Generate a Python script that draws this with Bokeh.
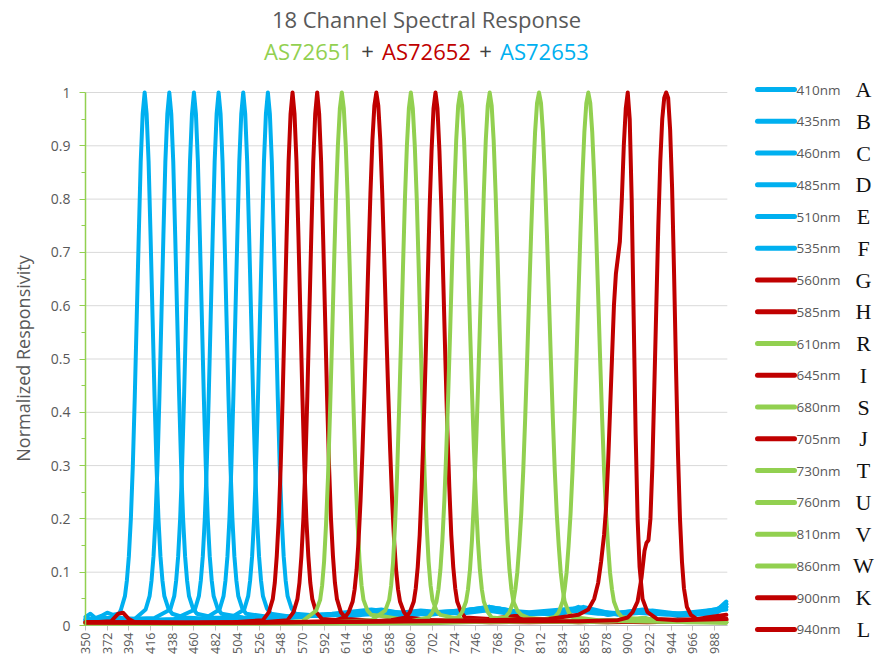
import math
from bokeh.plotting import figure
from bokeh.models import Range1d, FixedTicker, NumeralTickFormatter
from bokeh.embed import file_html
from bokeh.resources import INLINE
from bokeh.core.properties import value

BLUE = "#00B0F0"
RED = "#C00000"
GREEN = "#92D050"
GRAY = "#595959"
FONT = "Open Sans"

TITLE = "18 Channel Spectral Response"
SUBTITLE_PARTS = ["AS72651", "+", "AS72652", "+", "AS72653"]
SUBTITLE_COLORS = [GREEN, "#404040", RED, "#404040", BLUE]
Y_LABEL = "Normalized Responsivity"

X_TICKS = [350, 372, 394, 416, 438, 460, 482, 504, 526, 548, 570, 592, 614, 636, 658,
           680, 702, 724, 746, 768, 790, 812, 834, 856, 878, 900, 922, 944, 966, 988]
Y_TICKS = [0, 0.1, 0.2, 0.3, 0.4, 0.5, 0.6, 0.7, 0.8, 0.9, 1.0]
Y_MINOR = [0.05, 0.15, 0.25, 0.35, 0.45, 0.55, 0.65, 0.75, 0.85, 0.95]
X_MIN, X_MAX = 350, 1001

# ---- channel A 410nm (blue)
WL_A = [350, 355, 360, 366, 372, 378, 384, 386, 390, 392, 394, 396, 398, 400, 402, 404, 406, 408, 410,
        412, 414, 416, 418, 420, 422, 424, 426, 428, 430, 434, 438, 450, 480, 520, 560, 600, 630, 650,
        690, 730, 770, 800, 840, 880, 910, 950, 990, 1000]
R_A = [0.016, 0.022, 0.014, 0.018, 0.024, 0.02, 0.022, 0.03, 0.055, 0.085, 0.13, 0.2, 0.3, 0.43, 0.58, 0.73, 0.87, 0.96, 1.0,
       0.96, 0.87, 0.73, 0.58, 0.43, 0.3, 0.2, 0.13, 0.085, 0.055, 0.032, 0.022, 0.015, 0.012, 0.014, 0.016, 0.02, 0.025, 0.02,
       0.022, 0.028, 0.032, 0.022, 0.03, 0.022, 0.028, 0.02, 0.024, 0.035]
# ---- channel B 435nm (blue)
WL_B = [350, 380, 400, 411, 415, 417, 419, 421, 423, 425, 427, 429, 431, 433, 435, 437, 439, 441, 443, 445,
        447, 449, 451, 453, 455, 459, 463, 480, 520, 560, 600, 640, 680, 720, 760, 790, 830, 850, 880, 915,
        950, 985, 1000]
R_B = [0.012, 0.015, 0.012, 0.03, 0.055, 0.085, 0.13, 0.2, 0.3, 0.43, 0.58, 0.73, 0.87, 0.96, 1.0, 0.96, 0.87, 0.73, 0.58, 0.43,
       0.3, 0.2, 0.13, 0.085, 0.055, 0.032, 0.022, 0.015, 0.012, 0.018, 0.022, 0.03, 0.02, 0.025, 0.035, 0.025, 0.02, 0.035, 0.02, 0.03,
       0.018, 0.022, 0.04]
# ---- channel C 460nm (blue)
WL_C = [350, 390, 420, 436, 440, 442, 444, 446, 448, 450, 452, 454, 456, 458, 460, 462, 464, 466, 468, 470,
        472, 474, 476, 478, 480, 484, 488, 510, 550, 590, 620, 660, 700, 740, 770, 800, 840, 870, 900, 940,
        980, 1000]
R_C = [0.01, 0.012, 0.014, 0.03, 0.055, 0.085, 0.13, 0.2, 0.3, 0.43, 0.58, 0.73, 0.87, 0.96, 1.0, 0.96, 0.87, 0.73, 0.58, 0.43,
       0.3, 0.2, 0.13, 0.085, 0.055, 0.032, 0.022, 0.015, 0.012, 0.02, 0.018, 0.026, 0.02, 0.03, 0.028, 0.02, 0.028, 0.022, 0.025, 0.02,
       0.025, 0.03]
# ---- channel D 485nm (blue)
WL_D = [350, 400, 440, 461, 465, 467, 469, 471, 473, 475, 477, 479, 481, 483, 485, 487, 489, 491, 493, 495,
        497, 499, 501, 503, 505, 509, 513, 540, 580, 620, 650, 690, 730, 765, 800, 845, 880, 910, 950, 990,
        1000]
R_D = [0.012, 0.01, 0.012, 0.03, 0.055, 0.085, 0.13, 0.2, 0.3, 0.43, 0.58, 0.73, 0.87, 0.96, 1.0, 0.96, 0.87, 0.73, 0.58, 0.43,
       0.3, 0.2, 0.13, 0.085, 0.055, 0.032, 0.022, 0.015, 0.018, 0.022, 0.02, 0.028, 0.022, 0.03, 0.025, 0.032, 0.02, 0.026, 0.022, 0.03,
       0.04]
# ---- channel E 510nm (blue)
WL_E = [350, 420, 470, 486, 490, 492, 494, 496, 498, 500, 502, 504, 506, 508, 510, 512, 514, 516, 518, 520,
        522, 524, 526, 528, 530, 534, 538, 560, 600, 640, 670, 710, 750, 780, 820, 860, 895, 925, 960, 1000]
R_E = [0.01, 0.01, 0.012, 0.03, 0.055, 0.085, 0.13, 0.2, 0.3, 0.43, 0.58, 0.73, 0.87, 0.96, 1.0, 0.96, 0.87, 0.73, 0.58, 0.43,
       0.3, 0.2, 0.13, 0.085, 0.055, 0.032, 0.022, 0.016, 0.02, 0.024, 0.018, 0.026, 0.03, 0.022, 0.025, 0.028, 0.022, 0.028, 0.02, 0.035]
# ---- channel F 535nm (blue)
WL_F = [350, 450, 495, 511, 515, 517, 519, 521, 523, 525, 527, 529, 531, 533, 535, 537, 539, 541, 543, 545,
        547, 549, 551, 553, 555, 559, 563, 590, 620, 650, 680, 720, 760, 790, 830, 855, 890, 920, 960, 990,
        1000]
R_F = [0.01, 0.01, 0.012, 0.03, 0.055, 0.085, 0.13, 0.2, 0.3, 0.43, 0.58, 0.73, 0.87, 0.96, 1.0, 0.96, 0.87, 0.73, 0.58, 0.43,
       0.3, 0.2, 0.13, 0.085, 0.055, 0.032, 0.022, 0.018, 0.024, 0.03, 0.02, 0.024, 0.035, 0.025, 0.02, 0.035, 0.02, 0.025, 0.022, 0.028,
       0.045]
# ---- channel G 560nm (red)
WL_G = [350, 376, 383, 388, 394, 400, 450, 500, 530, 536, 540, 542, 544, 546, 548, 550, 552, 554, 556, 558,
        560, 562, 564, 566, 568, 570, 572, 574, 576, 578, 580, 584, 590, 620, 680, 740, 800, 860, 920, 960,
        1000]
R_G = [0.005, 0.008, 0.022, 0.024, 0.012, 0.006, 0.004, 0.006, 0.01, 0.025, 0.05, 0.08, 0.13, 0.2, 0.3, 0.43, 0.58, 0.73, 0.87, 0.96,
       1.0, 0.96, 0.87, 0.73, 0.58, 0.43, 0.3, 0.2, 0.13, 0.08, 0.05, 0.025, 0.012, 0.008, 0.006, 0.008, 0.006, 0.008, 0.006, 0.008,
       0.012]
# ---- channel H 585nm (red)
WL_H = [350, 450, 530, 555, 561, 565, 567, 569, 571, 573, 575, 577, 579, 581, 583, 585, 587, 589, 591, 593,
        595, 597, 599, 601, 603, 605, 609, 615, 650, 700, 760, 820, 880, 940, 1000]
R_H = [0.006, 0.005, 0.006, 0.01, 0.025, 0.05, 0.08, 0.13, 0.2, 0.3, 0.43, 0.58, 0.73, 0.87, 0.96, 1.0, 0.96, 0.87, 0.73, 0.58,
       0.43, 0.3, 0.2, 0.13, 0.08, 0.05, 0.025, 0.012, 0.008, 0.01, 0.006, 0.008, 0.006, 0.008, 0.01]
# ---- channel R 610nm (green)
WL_R = [350, 450, 540, 570, 584, 588, 590, 592, 594, 596, 598, 600, 602, 604, 606, 608, 610, 612, 614, 616,
        618, 620, 622, 624, 626, 628, 630, 632, 636, 640, 650, 670, 700, 760, 820, 880, 905, 915, 930, 1000]
R_R = [0.004, 0.004, 0.005, 0.008, 0.028, 0.048, 0.075, 0.12, 0.19, 0.28, 0.4, 0.53, 0.67, 0.8, 0.9, 0.97, 1.0, 0.97, 0.9, 0.8,
       0.67, 0.53, 0.4, 0.28, 0.19, 0.12, 0.075, 0.048, 0.028, 0.02, 0.018, 0.012, 0.008, 0.006, 0.008, 0.006, 0.012, 0.014, 0.008, 0.006]
# ---- channel I 645nm (red)
WL_I = [350, 450, 550, 600, 613, 617, 621, 623, 625, 627, 629, 631, 633, 635, 637, 639, 641, 643, 645, 647,
        649, 651, 653, 655, 657, 659, 661, 663, 665, 667, 669, 673, 677, 700, 750, 800, 850, 900, 1000]
R_I = [0.005, 0.004, 0.006, 0.008, 0.015, 0.025, 0.045, 0.068, 0.105, 0.16, 0.235, 0.33, 0.44, 0.56, 0.69, 0.81, 0.91, 0.975, 1.0, 0.975,
       0.91, 0.81, 0.69, 0.56, 0.44, 0.33, 0.235, 0.16, 0.105, 0.068, 0.045, 0.025, 0.015, 0.01, 0.008, 0.01, 0.006, 0.008, 0.01]
# ---- channel S 680nm (green)
WL_S = [350, 500, 600, 640, 654, 658, 660, 662, 664, 666, 668, 670, 672, 674, 676, 678, 680, 682, 684, 686,
        688, 690, 692, 694, 696, 698, 700, 702, 706, 710, 730, 780, 850, 920, 1000]
R_S = [0.004, 0.004, 0.006, 0.01, 0.028, 0.048, 0.075, 0.12, 0.19, 0.28, 0.4, 0.53, 0.67, 0.8, 0.9, 0.97, 1.0, 0.97, 0.9, 0.8,
       0.67, 0.53, 0.4, 0.28, 0.19, 0.12, 0.075, 0.048, 0.028, 0.02, 0.012, 0.008, 0.006, 0.01, 0.006]
# ---- channel J 705nm (red)
WL_J = [350, 500, 620, 660, 675, 679, 683, 685, 687, 689, 691, 693, 695, 697, 699, 701, 703, 705, 707, 709,
        711, 713, 715, 717, 719, 721, 723, 725, 727, 731, 735, 760, 785, 790, 800, 850, 900, 1000]
R_J = [0.006, 0.005, 0.006, 0.01, 0.015, 0.025, 0.045, 0.07, 0.11, 0.17, 0.26, 0.37, 0.5, 0.64, 0.78, 0.89, 0.97, 1.0, 0.97, 0.89,
       0.78, 0.64, 0.5, 0.37, 0.26, 0.17, 0.11, 0.07, 0.045, 0.025, 0.015, 0.012, 0.018, 0.018, 0.01, 0.008, 0.01, 0.012]
# ---- channel T 730nm (green)
WL_T = [350, 550, 680, 698, 702, 706, 708, 710, 712, 714, 716, 718, 720, 722, 724, 726, 728, 730, 732, 734,
        736, 738, 740, 742, 744, 746, 748, 750, 752, 754, 758, 762, 790, 850, 920, 1000]
R_T = [0.004, 0.004, 0.008, 0.015, 0.025, 0.045, 0.068, 0.105, 0.16, 0.235, 0.33, 0.44, 0.56, 0.69, 0.81, 0.91, 0.975, 1.0, 0.975, 0.91,
       0.81, 0.69, 0.56, 0.44, 0.33, 0.235, 0.16, 0.105, 0.068, 0.045, 0.025, 0.015, 0.01, 0.008, 0.012, 0.006]
# ---- channel U 760nm (green)
WL_U = [350, 600, 710, 728, 732, 736, 738, 740, 742, 744, 746, 748, 750, 752, 754, 756, 758, 760, 762, 764,
        766, 768, 770, 772, 774, 776, 778, 780, 782, 784, 788, 792, 800, 830, 900, 1000]
R_U = [0.004, 0.004, 0.008, 0.015, 0.025, 0.045, 0.068, 0.105, 0.16, 0.235, 0.33, 0.44, 0.56, 0.69, 0.81, 0.91, 0.975, 1.0, 0.975, 0.91,
       0.81, 0.69, 0.56, 0.44, 0.33, 0.235, 0.16, 0.105, 0.068, 0.045, 0.028, 0.02, 0.014, 0.01, 0.008, 0.006]
# ---- channel V 810nm (green)
WL_V = [350, 650, 760, 776, 780, 784, 786, 788, 790, 792, 794, 796, 798, 800, 802, 804, 806, 808, 810, 812,
        814, 816, 818, 820, 822, 824, 826, 828, 830, 832, 834, 836, 840, 844, 870, 920, 1000]
R_V = [0.004, 0.004, 0.01, 0.016, 0.025, 0.045, 0.068, 0.1, 0.15, 0.21, 0.29, 0.39, 0.5, 0.62, 0.735, 0.84, 0.925, 0.98, 1.0, 0.98,
       0.925, 0.84, 0.735, 0.62, 0.5, 0.39, 0.29, 0.21, 0.15, 0.1, 0.068, 0.045, 0.025, 0.016, 0.01, 0.008, 0.006]
# ---- channel W 860nm (green)
WL_W = [350, 700, 810, 826, 830, 834, 836, 838, 840, 842, 844, 846, 848, 850, 852, 854, 856, 858, 860, 862,
        864, 866, 868, 870, 872, 874, 876, 878, 880, 882, 884, 886, 890, 894, 910, 918, 926, 960, 1000]
R_W = [0.004, 0.004, 0.01, 0.016, 0.025, 0.045, 0.068, 0.1, 0.15, 0.21, 0.29, 0.39, 0.5, 0.62, 0.735, 0.84, 0.925, 0.98, 1.0, 0.98,
       0.925, 0.84, 0.735, 0.62, 0.5, 0.39, 0.29, 0.21, 0.15, 0.1, 0.068, 0.045, 0.025, 0.016, 0.012, 0.014, 0.01, 0.006, 0.005]
# ---- channel K 900nm (red)
WL_K = [350, 450, 550, 650, 750, 820, 850, 860, 866, 870, 873, 876, 878, 880, 882, 884, 886, 888, 890, 892,
        894, 896, 898, 900, 902, 904, 906, 908, 910, 912, 915, 920, 930, 950, 1000]
R_K = [0.006, 0.005, 0.006, 0.008, 0.01, 0.012, 0.02, 0.03, 0.05, 0.08, 0.12, 0.17, 0.22, 0.3, 0.4, 0.5, 0.6, 0.66, 0.69, 0.72,
       0.8, 0.9, 0.97, 1.0, 0.95, 0.8, 0.58, 0.36, 0.2, 0.11, 0.05, 0.025, 0.012, 0.01, 0.012]
# ---- channel L 940nm (red)
WL_L = [350, 500, 700, 850, 890, 900, 905, 910, 914, 917, 919, 921, 923, 925, 927, 929, 931, 933, 935, 937,
        939, 941, 943, 945, 947, 949, 951, 953, 955, 957, 960, 964, 970, 980, 1000]
R_L = [0.005, 0.005, 0.008, 0.008, 0.01, 0.015, 0.025, 0.045, 0.09, 0.14, 0.155, 0.16, 0.2, 0.3, 0.45, 0.6, 0.75, 0.87, 0.95, 0.99,
       1.0, 0.99, 0.93, 0.82, 0.66, 0.48, 0.32, 0.2, 0.12, 0.07, 0.035, 0.02, 0.012, 0.015, 0.02]

LETTERS = ["A", "B", "C", "D", "E", "F", "G", "H", "R", "I", "S", "J", "T", "U", "V", "W", "K", "L"]
NM_LABELS = ["410nm", "435nm", "460nm", "485nm", "510nm", "535nm", "560nm", "585nm", "610nm",
             "645nm", "680nm", "705nm", "730nm", "760nm", "810nm", "860nm", "900nm", "940nm"]
COLORS = [BLUE, BLUE, BLUE, BLUE, BLUE, BLUE, RED, RED, GREEN, RED, GREEN, RED,
          GREEN, GREEN, GREEN, GREEN, RED, RED]
WLS = [WL_A, WL_B, WL_C, WL_D, WL_E, WL_F, WL_G, WL_H, WL_R, WL_I, WL_S, WL_J,
       WL_T, WL_U, WL_V, WL_W, WL_K, WL_L]
RESP = [R_A, R_B, R_C, R_D, R_E, R_F, R_G, R_H, R_R, R_I, R_S, R_J,
        R_T, R_U, R_V, R_W, R_K, R_L]

# ---------------- canvas geometry (pixels inside the canvas)
W, H = 884, 658
PX_X350, PX_X988 = 85, 714      # canvas x of the first / last tick label
PX_Y1, PX_Y0 = 92, 625          # canvas y of 1.0 / 0.0
SX = (PX_X988 - PX_X350) / (X_TICKS[-1] - X_TICKS[0])
SY = (PX_Y0 - PX_Y1) / 1.0
X_START = X_TICKS[0] - PX_X350 / SX
X_END = X_START + W / SX
Y_END = 1.0 + PX_Y1 / SY
Y_START = Y_END - H / SY


def px_x(px):
    return X_START + px / SX


def px_y(py):
    return Y_END - py / SY


p = figure(width=W, height=H, x_range=Range1d(X_START, X_END), y_range=Range1d(Y_START, Y_END),
           output_backend="svg", toolbar_location=None, title=None, min_border=0)
p.outline_line_color = None
p.grid.visible = False
p.background_fill_color = "white"
p.border_fill_color = "white"

# horizontal gridlines, only across the plot area
p.segment(x0=[X_MIN] * len(Y_TICKS), x1=[X_MAX] * len(Y_TICKS), y0=Y_TICKS, y1=Y_TICKS,
          line_color="#D9D9D9", line_width=1, level="underlay")

for wl, r, c in zip(WLS, RESP, COLORS):
    p.line(wl, r, line_color=c, line_width=4, line_join="round", line_cap="round")

ya = p.yaxis[0]
ya.fixed_location = X_MIN
ya.bounds = (0, 1)
ya.ticker = FixedTicker(ticks=Y_TICKS, minor_ticks=Y_MINOR)
ya.formatter = NumeralTickFormatter(format="0.[0]")
ya.axis_line_color = GREEN
ya.axis_line_width = 1.5
ya.major_tick_line_color = GREEN
ya.minor_tick_line_color = GREEN
ya.major_tick_out = 6
ya.major_tick_in = 0
ya.minor_tick_out = 4
ya.minor_tick_in = 0
ya.major_label_text_font = FONT
ya.major_label_text_font_size = "14px"
ya.major_label_text_color = GRAY
ya.major_label_standoff = 9

xa = p.xaxis[0]
xa.fixed_location = 0
xa.bounds = (X_MIN, X_MAX)
xa.level = "underlay"
xa.ticker = FixedTicker(ticks=X_TICKS)
xa.axis_line_color = "#BFBFBF"
xa.major_tick_line_color = "#BFBFBF"
xa.minor_tick_line_color = None
xa.major_tick_out = 5
xa.major_tick_in = 0
xa.major_label_orientation = math.pi / 2
xa.major_label_standoff = 2
xa.major_label_text_font = FONT
xa.major_label_text_font_size = "12.5px"
xa.major_label_text_color = GRAY

# y-axis title
p.text(x=[px_x(22)], y=[px_y(358)], text=[Y_LABEL], angle=math.pi / 2, text_font=value(FONT),
       text_font_size="18px", text_color=GRAY, text_align="center", text_baseline="middle")

# chart titles
p.text(x=[px_x(426)], y=[px_y(18)], text=[TITLE], text_font=value(FONT), text_font_size="22px",
       text_color=GRAY, text_align="center", text_baseline="middle")
sub_px = [308, 367, 426, 485, 544]
p.text(x=[px_x(v) for v in sub_px], y=[px_y(50)] * len(sub_px), text=SUBTITLE_PARTS,
       text_color=SUBTITLE_COLORS, text_font=value(FONT), text_font_size="22px",
       text_align="center", text_baseline="middle")

# legend (right side)
rows_py = [89 + 31.76 * i for i in range(len(LETTERS))]
rows_y = [px_y(v) for v in rows_py]
n = len(rows_y)
p.segment(x0=[px_x(757)] * n, x1=[px_x(794)] * n, y0=rows_y, y1=rows_y,
          line_color=COLORS, line_width=5, line_cap="round")
p.text(x=[px_x(796)] * n, y=rows_y, text=NM_LABELS, text_font=value(FONT), text_font_size="13.5px",
       text_color=GRAY, text_align="left", text_baseline="middle")
p.text(x=[px_x(863)] * n, y=rows_y, text=LETTERS, text_font=value("Liberation Serif"),
       text_font_size="22px", text_color="#111111", text_align="center", text_baseline="middle")

open("out.html", "w").write(file_html(p, INLINE))
